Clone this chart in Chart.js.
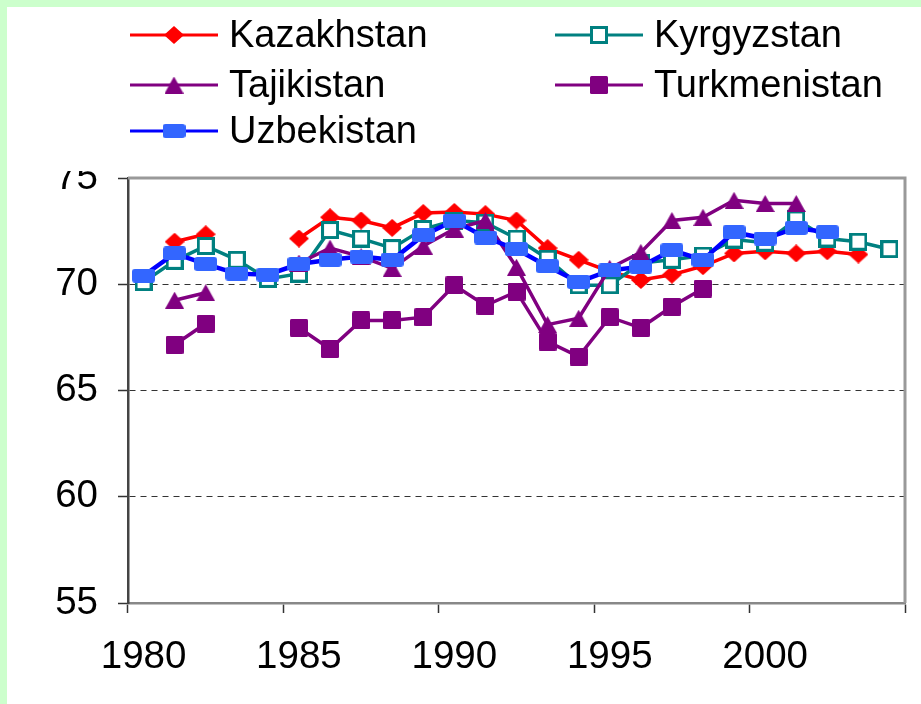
<!DOCTYPE html>
<html>
<head>
<meta charset="utf-8">
<script src="https://cdn.jsdelivr.net/npm/chart.js@4.4.0/dist/chart.umd.min.js"></script>
<style>
  html, body { margin: 0; padding: 0; background: #fff; }
</style>
</head>
<body>
<canvas id="chart" width="921" height="704"></canvas>
<script>
// data (life expectancy, years)
const years = ["1980", "1981", "1982", "1983", "1984", "1985", "1986", "1987", "1988", "1989",
               "1990", "1991", "1992", "1993", "1994", "1995", "1996", "1997", "1998", "1999",
               "2000", "2001", "2002", "2003", "2004"];

const kazakhstan = [null, 72.0, 72.35, null, null, 72.15, 73.15, 73.0, 72.65, 73.35,
                    73.4, 73.3, 73.0, 71.7, 71.15, 70.6, 70.2, 70.45, 70.85, 71.45,
                    71.55, 71.45, 71.55, 71.4, null];
const kyrgyzstan = [70.1, 71.1, 71.8, 71.15, 70.25, 70.5, 72.55, 72.15, 71.7, 72.6,
                    73.0, 72.9, 72.15, 71.2, 69.95, 69.95, 71.0, 71.15, 71.35, 72.1,
                    71.95, 73.05, 72.15, 72.0, 71.65];
const tajikistan = [null, 69.25, 69.6, null, null, 71.0, 71.7, 71.3, 70.75, 71.8,
                    72.6, 73.0, 70.8, 68.1, 68.4, 70.75, 71.5, 73.0, 73.15, 73.95,
                    73.8, 73.8, null, null, null];
const turkmenistan = [null, 67.15, 68.15, null, null, 67.95, 66.95, 68.3, 68.3, 68.45,
                      69.95, 69.0, 69.65, 67.3, 66.6, 68.45, 67.95, 68.95, 69.8, null,
                      null, null, null, null, null];
const uzbekistan = [70.4, 71.45, 70.95, 70.5, 70.45, 70.95, 71.15, 71.3, 71.15, 72.3,
                    73.0, 72.2, 71.65, 70.85, 70.1, 70.65, 70.83, 71.6, 71.15, 72.45,
                    72.15, 72.65, 72.45, null, null];

const yTicks = [55, 60, 65, 70, 75];

const FONT = '"Liberation Sans", Arial, sans-serif';

// marker images, so plot and legend look the same
function marker(kind) {
    const c = document.createElement('canvas');
    const g = c.getContext('2d');
    if (kind === 'diamond') {
        c.width = 20; c.height = 18;
        g.fillStyle = '#ff0000';
        g.beginPath();
        g.moveTo(10, 0); g.lineTo(20, 9); g.lineTo(10, 18); g.lineTo(0, 9);
        g.closePath(); g.fill();
    } else if (kind === 'open') {
        c.width = 18; c.height = 18;
        g.fillStyle = '#fff';
        g.fillRect(1.5, 1.5, 15, 15);
        g.strokeStyle = '#008080';
        g.lineWidth = 3;
        g.strokeRect(1.5, 1.5, 15, 15);
    } else if (kind === 'triangle') {
        c.width = 19; c.height = 17;
        g.fillStyle = '#800080';
        g.beginPath();
        g.moveTo(9.5, 0); g.lineTo(19, 17); g.lineTo(0, 17);
        g.closePath(); g.fill();
    } else if (kind === 'square') {
        c.width = 18; c.height = 18;
        g.fillStyle = '#800080';
        g.beginPath();
        g.roundRect(0, 0, 18, 18, 1.5);
        g.fill();
    } else {
        c.width = 23; c.height = 14;
        g.fillStyle = '#3366ff';
        g.beginPath();
        g.roundRect(0, 0, 23, 14, 3);
        g.fill();
    }
    return c;
}

const markers = {
    diamond: marker('diamond'),
    open: marker('open'),
    triangle: marker('triangle'),
    square: marker('square'),
    rounded: marker('rounded')
};

function series(label, data, color, width, style, order) {
    return {
        label: label,
        data: data,
        borderColor: color,
        borderWidth: width,
        pointStyle: markers[style],
        pointRadius: 10,
        pointHoverRadius: 10,
        tension: 0,
        order: order
    };
}

const background = {
    id: 'background',
    beforeDraw(chart) {
        const ctx = chart.ctx;
        ctx.save();
        ctx.fillStyle = '#ccffcc';
        ctx.fillRect(0, 0, chart.width, chart.height);
        ctx.fillStyle = '#fff';
        ctx.fillRect(7, 7, chart.width - 7, chart.height - 7);
        ctx.restore();
    }
};

const frame = {
    id: 'frame',
    beforeDatasetsDraw(chart) {
        const a = chart.chartArea;
        const ctx = chart.ctx;
        ctx.save();
        ctx.strokeStyle = '#999';
        ctx.lineWidth = 3;
        ctx.beginPath();
        ctx.moveTo(a.left, a.top);
        ctx.lineTo(a.right, a.top);
        ctx.lineTo(a.right, a.bottom);
        ctx.stroke();
        ctx.restore();
    }
};

// legend in two columns like the original; its white box cuts the top of "75"
const legendBox = {
    id: 'legendBox',
    afterDraw(chart) {
        const ctx = chart.ctx;
        const spots = [[130, 35], [555, 35], [130, 85], [555, 85], [130, 131]];
        ctx.save();
        ctx.fillStyle = '#fff';
        ctx.fillRect(7, 7, chart.width - 7, 164);
        ctx.font = '38px ' + FONT;
        ctx.textBaseline = 'alphabetic';
        chart.data.datasets.forEach((ds, i) => {
            const [x, y] = spots[i];
            ctx.strokeStyle = ds.borderColor;
            ctx.lineWidth = 3;
            ctx.beginPath();
            ctx.moveTo(x, y);
            ctx.lineTo(x + 88, y);
            ctx.stroke();
            const m = ds.pointStyle;
            ctx.drawImage(m, x + 44 - m.width / 2, y - m.height / 2);
            ctx.fillStyle = '#000';
            ctx.fillText(ds.label, x + 99, y + 12);
        });
        ctx.restore();
    }
};

new Chart(document.getElementById('chart'), {
    type: 'line',
    data: {
        labels: years,
        datasets: [
            series('Kazakhstan', kazakhstan, '#ff0000', 3.5, 'diamond', 5),
            series('Kyrgyzstan', kyrgyzstan, '#008080', 3.5, 'open', 4),
            series('Tajikistan', tajikistan, '#800080', 3.5, 'triangle', 3),
            series('Turkmenistan', turkmenistan, '#800080', 3.5, 'square', 2),
            series('Uzbekistan', uzbekistan, '#0000ff', 4.5, 'rounded', 1)
        ]
    },
    options: {
        responsive: false,
        animation: false,
        layout: { padding: { top: 178, right: 16, left: 0, bottom: 0 } },
        plugins: {
            legend: { display: false },
            tooltip: { enabled: false }
        },
        scales: {
            x: {
                type: 'category',
                offset: true,
                afterFit: (axis) => { axis.height = 101; },
                grid: {
                    offset: true,
                    drawOnChartArea: false,
                    tickLength: 10,
                    tickWidth: 1.5,
                    tickColor: (c) => (c.index === undefined || c.index % 5 === 0) ? '#333' : 'rgba(0,0,0,0)'
                },
                border: { color: '#888', width: 2.5 },
                ticks: {
                    autoSkip: false,
                    maxRotation: 0,
                    padding: 21,
                    color: '#000',
                    font: { family: FONT, size: 38.5 },
                    callback: (v, i) => i % 5 === 0 ? years[i] : ''
                }
            },
            y: {
                min: yTicks[0],
                max: yTicks[yTicks.length - 1],
                afterFit: (axis) => { axis.width = 128; },
                afterBuildTicks: (axis) => { axis.ticks = yTicks.map(v => ({ value: v })); },
                grid: {
                    color: (c) => (c.tick && (c.tick.value === 55 || c.tick.value === 75)) ? 'rgba(0,0,0,0)' : '#333',
                    lineWidth: 1,
                    tickLength: 10,
                    tickWidth: 1.5,
                    tickColor: '#333'
                },
                border: { color: '#444', width: 2.5, dash: [6, 5] },
                ticks: {
                    padding: 20,
                    color: '#000',
                    font: { family: FONT, size: 38.5 }
                }
            }
        }
    },
    plugins: [background, frame, legendBox]
});
</script>
</body>
</html>
